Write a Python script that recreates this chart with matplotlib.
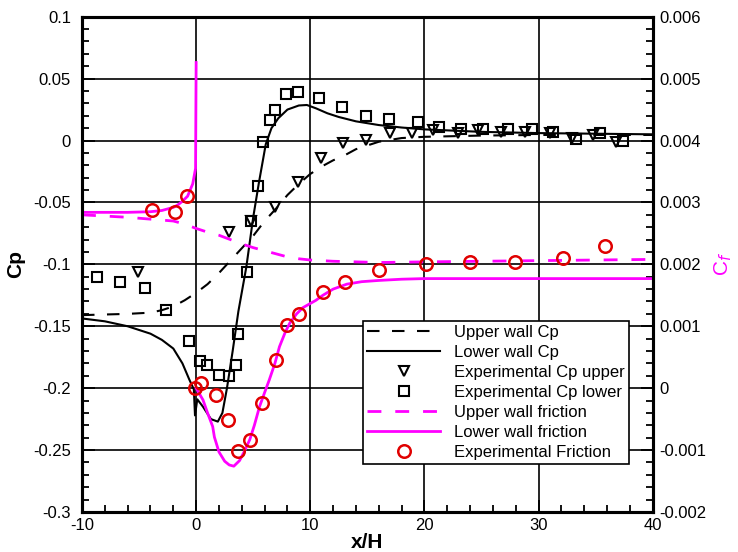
import matplotlib
matplotlib.use("Agg")
import matplotlib.pyplot as plt
from matplotlib.ticker import MultipleLocator

plt.rcParams['font.family'] = ['Liberation Sans', 'DejaVu Sans']
plt.rcParams['axes.unicode_minus'] = False

# ---- data ----
x_upper_cp = [-10, -6, -4, -3, -2, -1, 0, 1, 2, 3, 4, 5, 6, 7, 8, 9, 10, 11, 12, 13, 14, 15, 16, 18, 20, 25, 30, 35, 40]
upper_cp = [-0.141, -0.140, -0.139, -0.137, -0.134, -0.129, -0.123, -0.116, -0.107, -0.097, -0.087, -0.077, -0.065,
            -0.055, -0.044, -0.035, -0.027, -0.021, -0.016, -0.012, -0.007, -0.004, -0.001, 0.002, 0.003, 0.004,
            0.0045, 0.0045, 0.0045]

x_lower_cp = [-10, -8, -6, -4, -3, -2, -1.2, -0.6, -0.2, -0.1, 0.1, 0.6, 1.3, 1.9, 2.3, 2.7, 3.2, 3.7, 4.4, 5.0,
              5.5, 6.1, 6.6, 7.2, 8.0, 9.0, 9.7, 10.5, 11.5, 12.5, 14, 16, 18, 20, 25, 30, 35, 40]
lower_cp = [-0.1437, -0.146, -0.150, -0.156, -0.161, -0.168, -0.180, -0.193, -0.201, -0.222, -0.209, -0.215,
            -0.225, -0.227, -0.220, -0.200, -0.170, -0.138, -0.102, -0.062, -0.034, -0.003, 0.010, 0.018, 0.025,
            0.0283, 0.0287, 0.026, 0.022, 0.019, 0.0155, 0.0125, 0.0105, 0.009, 0.007, 0.006, 0.0055, 0.005]

x_exp_cp_upper = [-5.05, 2.9, 4.82, 6.93, 8.9, 10.96, 12.9, 14.9, 17.0, 18.9, 20.75, 22.9, 24.7, 26.75, 28.8,
                  31.0, 32.9, 34.8, 36.8]
exp_cp_upper = [-0.106, -0.0737, -0.065, -0.0535, -0.0333, -0.0144, -0.0023, 0.0003, 0.0058, 0.0063, 0.0085,
                0.0063, 0.0085, 0.007, 0.007, 0.0058, 0.0018, 0.0044, -0.001]

x_exp_cp_lower = [-8.65, -6.64, -4.5, -2.6, -0.65, 0.35, 0.96, 1.98, 2.86, 3.45, 3.65, 4.47, 4.82, 5.46, 5.9,
                  6.43, 6.9, 7.9, 8.9, 10.8, 12.8, 14.85, 16.9, 19.4, 21.3, 23.2, 25.1, 27.3, 29.4, 31.3, 33.3,
                  35.4, 37.4]
exp_cp_lower = [-0.110, -0.114, -0.1195, -0.137, -0.162, -0.178, -0.181, -0.189, -0.190, -0.181, -0.156, -0.1065,
                -0.065, -0.0366, -0.001, 0.0165, 0.025, 0.0375, 0.0394, 0.0345, 0.0273, 0.0198, 0.017, 0.0147,
                0.011, 0.009, 0.009, 0.009, 0.009, 0.0066, 0.001, 0.0063, -0.0002]

x_upper_cf = [-10, -6, -4, -2, -1, 0, 1, 2, 3, 4, 5, 6, 7, 8, 9, 10, 12, 14, 16, 20, 25, 30, 35, 40]
upper_cf = [0.0028, 0.00276, 0.00273, 0.0027, 0.00265, 0.00258, 0.00252, 0.00247, 0.0024, 0.00233, 0.00227,
            0.00222, 0.00217, 0.00212, 0.00209, 0.00207, 0.00205, 0.00204, 0.00203, 0.00204, 0.00205, 0.00206,
            0.00207, 0.00208]

x_lower_cf_up = [-10, -6, -4, -3, -2, -1.6, -1.2, -0.75, -0.3, -0.05, 0.0]
lower_cf_up = [0.00284, 0.00284, 0.00285, 0.00287, 0.00292, 0.00296, 0.00302, 0.0031, 0.0033, 0.00355, 0.00526]

x_lower_cf_down = [0.0, 0.6, 1.0, 1.45, 1.6, 2.0, 2.5, 2.9, 3.3, 3.8, 4.2, 4.7, 5.1, 5.55, 6.0, 6.4, 6.9, 7.3,
                   7.8, 8.2, 8.8, 9.35, 10.5, 11.1, 12, 13.2, 14.5, 16, 18, 20, 25, 30, 35, 40]
lower_cf_down = [0.0, -0.00019, -0.0004, -0.00062, -0.00079, -0.00103, -0.00118, -0.00124, -0.00126, -0.00117,
                 -0.00103, -0.00083, -0.0006, -0.0003, -0.00007, 0.00013, 0.0004, 0.00067, 0.0009, 0.00105,
                 0.0012, 0.0013, 0.00142, 0.0015, 0.0016, 0.00168, 0.00172, 0.00174, 0.00176, 0.00177, 0.00177,
                 0.00177, 0.00177, 0.00177]

x_exp_cf = [-3.9, -1.85, -0.8, -0.1, 0.45, 1.75, 2.75, 3.7, 4.68, 5.75, 7.0, 7.95, 9.05, 11.1, 13.07, 16.0,
            20.1, 24.0, 27.9, 32.1, 35.8]
exp_cf = [0.00288, 0.00284, 0.00311, 0.0, 0.00008, -0.00011, -0.00052, -0.00102, -0.00083, -0.00024, 0.00045,
          0.00102, 0.00119, 0.00155, 0.00172, 0.00191, 0.0020, 0.00203, 0.00204, 0.00211, 0.0023]

x_ticks = [-10, 0, 10, 20, 30, 40]
x_tick_labels = ['-10', '0', '10', '20', '30', '40']
cp_ticks = [-0.3, -0.25, -0.2, -0.15, -0.1, -0.05, 0, 0.05, 0.1]
cp_tick_labels = ['-0.3', '-0.25', '-0.2', '-0.15', '-0.1', '-0.05', '0', '0.05', '0.1']
cf_ticks = [-0.002, -0.001, 0, 0.001, 0.002, 0.003, 0.004, 0.005, 0.006]
cf_tick_labels = ['-0.002', '-0.001', '0', '0.001', '0.002', '0.003', '0.004', '0.005', '0.006']

legend_labels = ['Upper wall Cp', 'Lower wall Cp', 'Experimental Cp upper', 'Experimental Cp lower',
                 'Upper wall friction', 'Lower wall friction', 'Experimental Friction']

MAGENTA = '#FF00FF'
RED = '#E00000'

fig = plt.figure(figsize=(7.38, 5.52), dpi=100)
ax = fig.add_axes([82 / 738, 40 / 552, 570.7 / 738, 495.3 / 552])
ax2 = ax.twinx()

ax.set_xlim(-10, 40)
ax.set_ylim(-0.3, 0.1)
ax2.set_ylim(-0.002, 0.006)

ax.set_axisbelow(True)
ax.grid(True, which='major', color='black', linewidth=1.2)

h1, = ax.plot(x_upper_cp, upper_cp, color='black', lw=1.5, dashes=(6, 6))
h2, = ax.plot(x_lower_cp, lower_cp, color='black', lw=1.5)
h3, = ax.plot(x_exp_cp_upper, exp_cp_upper, linestyle='none', marker='v', ms=7.5, mfc='none', mec='black', mew=1.5)
h4, = ax.plot(x_exp_cp_lower, exp_cp_lower, linestyle='none', marker='s', ms=6.5, mfc='none', mec='black', mew=1.5)

h5, = ax2.plot(x_upper_cf, upper_cf, color=MAGENTA, lw=2, dashes=(5, 5))
h6, = ax2.plot(x_lower_cf_down, lower_cf_down, color=MAGENTA, lw=2)
ax2.plot(x_lower_cf_up, lower_cf_up, color=MAGENTA, lw=2)
h7, = ax2.plot(x_exp_cf, exp_cf, linestyle='none', marker='o', ms=9, mfc='none', mec=RED, mew=1.8)

# ticks
ax.set_xticks(x_ticks)
ax.set_xticklabels(x_tick_labels)
ax.set_yticks(cp_ticks)
ax.set_yticklabels(cp_tick_labels)
ax2.set_yticks(cf_ticks)
ax2.set_yticklabels(cf_tick_labels)
ax.xaxis.set_minor_locator(MultipleLocator(2))
ax.yaxis.set_minor_locator(MultipleLocator(0.01))
ax2.yaxis.set_minor_locator(MultipleLocator(0.0002))

ax.tick_params(which='both', direction='in', top=False, right=False, labelsize=12, width=1.3)
ax.tick_params(which='major', length=9)
ax.tick_params(which='minor', length=5)
ax.tick_params(axis='y', pad=8)
ax.tick_params(axis='x', pad=4)
ax2.tick_params(which='both', direction='in', left=False, labelsize=12, width=1.3, pad=5)
ax2.tick_params(which='major', length=9)
ax2.tick_params(which='minor', length=5)

for a in (ax, ax2):
    for s in a.spines.values():
        s.set_linewidth(2.2)

ax.set_xlabel('x/H', fontsize=15, fontweight='bold', labelpad=0)
ax.set_ylabel('Cp', fontsize=15, fontweight='bold', labelpad=6)
ax2.set_ylabel('C$_f$', fontsize=15, color=MAGENTA, labelpad=4)

leg = ax2.legend([h1, h2, h3, h4, h5, h6, h7], legend_labels, loc='upper left',
                 bbox_to_anchor=(0.492, 0.386), fontsize=12, frameon=True, fancybox=False,
                 edgecolor='black', framealpha=1, handlelength=4.4, handletextpad=0.8,
                 labelspacing=0.3, borderpad=0.25, borderaxespad=0)
leg.get_frame().set_linewidth(1.2)
leg.set_zorder(10)

fig.savefig('out.png', dpi=100)
